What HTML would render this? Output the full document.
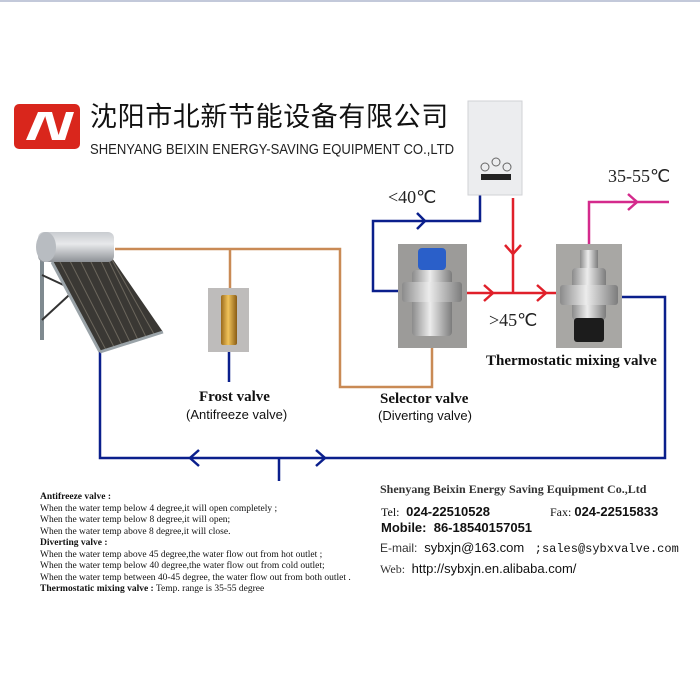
<!DOCTYPE html>
<html><head><meta charset="utf-8"><style>
html,body{margin:0;padding:0;background:#fff;}
body{width:700px;height:700px;position:relative;overflow:hidden;font-family:"Liberation Serif",serif;}
.t{position:absolute;white-space:nowrap;}
</style></head><body>
<svg width="700" height="700" style="position:absolute;left:0;top:0">
<defs>
<linearGradient id="tank" x1="0" y1="0" x2="0" y2="1"><stop offset="0" stop-color="#c9ccd0"/><stop offset=".4" stop-color="#e8e9eb"/><stop offset="1" stop-color="#8d9196"/></linearGradient>
<linearGradient id="brass" x1="0" y1="0" x2="1" y2="0"><stop offset="0" stop-color="#9a6a1c"/><stop offset=".45" stop-color="#f0c35a"/><stop offset="1" stop-color="#8a5c14"/></linearGradient>
<linearGradient id="chrome" x1="0" y1="0" x2="1" y2="0"><stop offset="0" stop-color="#8b8b8b"/><stop offset=".45" stop-color="#ececec"/><stop offset="1" stop-color="#7c7c7c"/></linearGradient>
</defs>
<rect x="0" y="0" width="700" height="2" fill="#c3c9da"/>
<rect x="14" y="104" width="66" height="45" rx="5" fill="#d9261c"/>
<polygon points="26,140 38,112 47,112 35,140" fill="#fff"/>
<polygon points="44,112 52,112 60,140 52,140" fill="#fff"/>
<polygon points="57,140 66,112 74,112 65,140" fill="#fff"/>
<polyline points="115,249 340,249 340,387 432,387 432,348" fill="none" stroke="#c98a55" stroke-width="2.5"/>
<line x1="230" y1="249" x2="230" y2="290" stroke="#c98a55" stroke-width="2.5"/>
<line x1="229" y1="352" x2="229" y2="382" stroke="#0a1f8c" stroke-width="2.5"/>
<polyline points="100,350 100,458 665,458 665,297 620,297" fill="none" stroke="#0a1f8c" stroke-width="2.5"/>
<polyline points="199,450 190,458 199,466" fill="none" stroke="#0a1f8c" stroke-width="2.5"/>
<polyline points="316,450 325,458 316,466" fill="none" stroke="#0a1f8c" stroke-width="2.5"/>
<line x1="279" y1="458" x2="279" y2="481" stroke="#0a1f8c" stroke-width="2.5"/>
<polyline points="480,195 480,221 373,221 373,291 402,291" fill="none" stroke="#0a1f8c" stroke-width="2.5"/>
<polyline points="417,213 425,221 417,229" fill="none" stroke="#0a1f8c" stroke-width="2.5"/>
<line x1="466" y1="293" x2="556" y2="293" stroke="#e0202a" stroke-width="2.5"/>
<line x1="513" y1="198" x2="513" y2="293" stroke="#e0202a" stroke-width="2.5"/>
<polyline points="484,285 493,293 484,301" fill="none" stroke="#e0202a" stroke-width="2.5"/>
<polyline points="537,285 546,293 537,301" fill="none" stroke="#e0202a" stroke-width="2.5"/>
<polyline points="505,245 513,254 521,245" fill="none" stroke="#e0202a" stroke-width="2.5"/>
<polyline points="589,245 589,202 669,202" fill="none" stroke="#d42a8c" stroke-width="2.5"/>
<polyline points="628,194 637,202 628,210" fill="none" stroke="#d42a8c" stroke-width="2.5"/>
<line x1="42" y1="258" x2="42" y2="340" stroke="#7f8a90" stroke-width="4"/>
<line x1="42" y1="275" x2="85" y2="295" stroke="#333" stroke-width="2"/>
<line x1="42" y1="320" x2="80" y2="285" stroke="#333" stroke-width="2"/>
<polygon points="52,262 112,258 163,332 100,352" fill="#3a3834"/>
<g stroke="#6b665c" stroke-width="1">
<line x1="60" y1="262" x2="106" y2="350"/><line x1="70" y1="261" x2="114" y2="347"/><line x1="80" y1="260" x2="122" y2="345"/><line x1="90" y1="260" x2="130" y2="342"/><line x1="100" y1="259" x2="138" y2="340"/><line x1="108" y1="259" x2="146" y2="337"/><line x1="112" y1="260" x2="154" y2="334"/>
</g>
<line x1="52" y1="262" x2="100" y2="352" stroke="#9aa3a8" stroke-width="3"/>
<line x1="100" y1="352" x2="163" y2="332" stroke="#9aa3a8" stroke-width="3"/>
<rect x="38" y="232" width="76" height="30" rx="6" fill="url(#tank)"/>
<ellipse cx="46" cy="247" rx="10" ry="15" fill="#b8bcc1"/>
<rect x="208" y="288" width="41" height="64" fill="#bebcbb"/>
<rect x="221" y="295" width="16" height="50" rx="2" fill="url(#brass)"/>
<rect x="398" y="244" width="69" height="104" fill="#9c9b99"/>
<rect x="418" y="248" width="28" height="22" rx="4" fill="#2a5fc9"/>
<rect x="412" y="270" width="40" height="66" rx="4" fill="url(#chrome)"/>
<rect x="402" y="282" width="60" height="20" rx="3" fill="url(#chrome)"/>
<rect x="556" y="244" width="66" height="104" fill="#a8a7a4"/>
<rect x="580" y="250" width="18" height="20" fill="url(#chrome)"/>
<rect x="572" y="268" width="34" height="52" rx="4" fill="url(#chrome)"/>
<rect x="560" y="285" width="58" height="20" rx="3" fill="url(#chrome)"/>
<rect x="574" y="318" width="30" height="24" rx="3" fill="#1c1c1c"/>
<rect x="468" y="101" width="54" height="94" fill="#ecedef" stroke="#d0d2d6"/>
<rect x="481" y="174" width="30" height="6" fill="#222"/>
<circle cx="485" cy="167" r="4" fill="none" stroke="#666"/><circle cx="496" cy="162" r="4" fill="none" stroke="#666"/><circle cx="507" cy="167" r="4" fill="none" stroke="#666"/>
</svg>
<div class="t" style="left:90px;top:100px;font-family:'Liberation Sans','Noto Sans CJK SC',sans-serif;font-size:27px;line-height:34px;color:#111;letter-spacing:0.6px;">沈阳市北新节能设备有限公司</div>
<div class="t" style="left:90px;top:141px;font-family:'Liberation Sans',sans-serif;font-size:15px;color:#222;transform:scaleX(0.87);transform-origin:left;">SHENYANG BEIXIN ENERGY-SAVING EQUIPMENT CO.,LTD</div>
<div class="t" style="left:388px;top:187px;font-size:18px;color:#222;">&lt;40℃</div>
<div class="t" style="left:608px;top:166px;font-size:18px;color:#222;">35-55℃</div>
<div class="t" style="left:489px;top:310px;font-size:18px;color:#222;">&gt;45℃</div>
<div class="t" style="left:486px;top:353px;font-size:15px;font-weight:bold;color:#111;">Thermostatic mixing valve</div>
<div class="t" style="left:199px;top:389px;font-size:15px;font-weight:bold;color:#111;">Frost valve</div>
<div class="t" style="left:186px;top:407px;font-family:'Liberation Sans',sans-serif;font-size:13px;color:#111;">(Antifreeze valve)</div>
<div class="t" style="left:380px;top:391px;font-size:15px;font-weight:bold;color:#111;">Selector valve</div>
<div class="t" style="left:378px;top:408px;font-family:'Liberation Sans',sans-serif;font-size:13px;color:#111;">(Diverting valve)</div>
<div class="t" style="left:40px;top:492px;font-size:9.5px;line-height:11.5px;color:#111;">
<b>Antifreeze valve :</b><br>When the water temp below 4 degree,it will open completely ;<br>When the water temp below 8 degree,it will open;<br>When the water temp above 8 degree,it will close.<br><b>Diverting valve :</b><br>When the water temp above 45 degree,the water flow out from hot outlet ;<br>When the water temp below 40 degree,the water flow out from cold outlet;<br>When the water temp between 40-45 degree, the water flow out from both outlet .<br><b>Thermostatic mixing valve :</b> Temp. range is 35-55 degree</div>
<div class="t" style="left:380px;top:482px;font-size:12px;font-weight:bold;color:#333;">Shenyang Beixin Energy Saving Equipment Co.,Ltd</div>
<div class="t" style="left:381px;top:504px;font-size:12px;color:#111;">Tel: <span style="font-family:'Liberation Sans',sans-serif;font-weight:bold;font-size:13px;">&nbsp;024-22510528</span></div>
<div class="t" style="left:550px;top:504px;font-size:12px;color:#111;">Fax: <span style="font-family:'Liberation Sans',sans-serif;font-weight:bold;font-size:13px;">024-22515833</span></div>
<div class="t" style="left:381px;top:520px;font-family:'Liberation Sans',sans-serif;font-weight:bold;font-size:13px;color:#111;">Mobile: &nbsp;86-18540157051</div>
<div class="t" style="left:380px;top:540px;font-family:'Liberation Sans',sans-serif;font-size:12px;color:#333;">E-mail: <span style="font-size:13px;color:#111;">&nbsp;sybxjn@163.com</span> <span style="font-family:'Liberation Mono',monospace;font-size:12px;color:#111;">&nbsp;;sales@sybxvalve.com</span></div>
<div class="t" style="left:380px;top:561px;font-size:12px;color:#333;">Web: <span style="font-family:'Liberation Sans',sans-serif;font-size:13px;color:#111;">&nbsp;http://sybxjn.en.alibaba.com/</span></div>
</body></html>
